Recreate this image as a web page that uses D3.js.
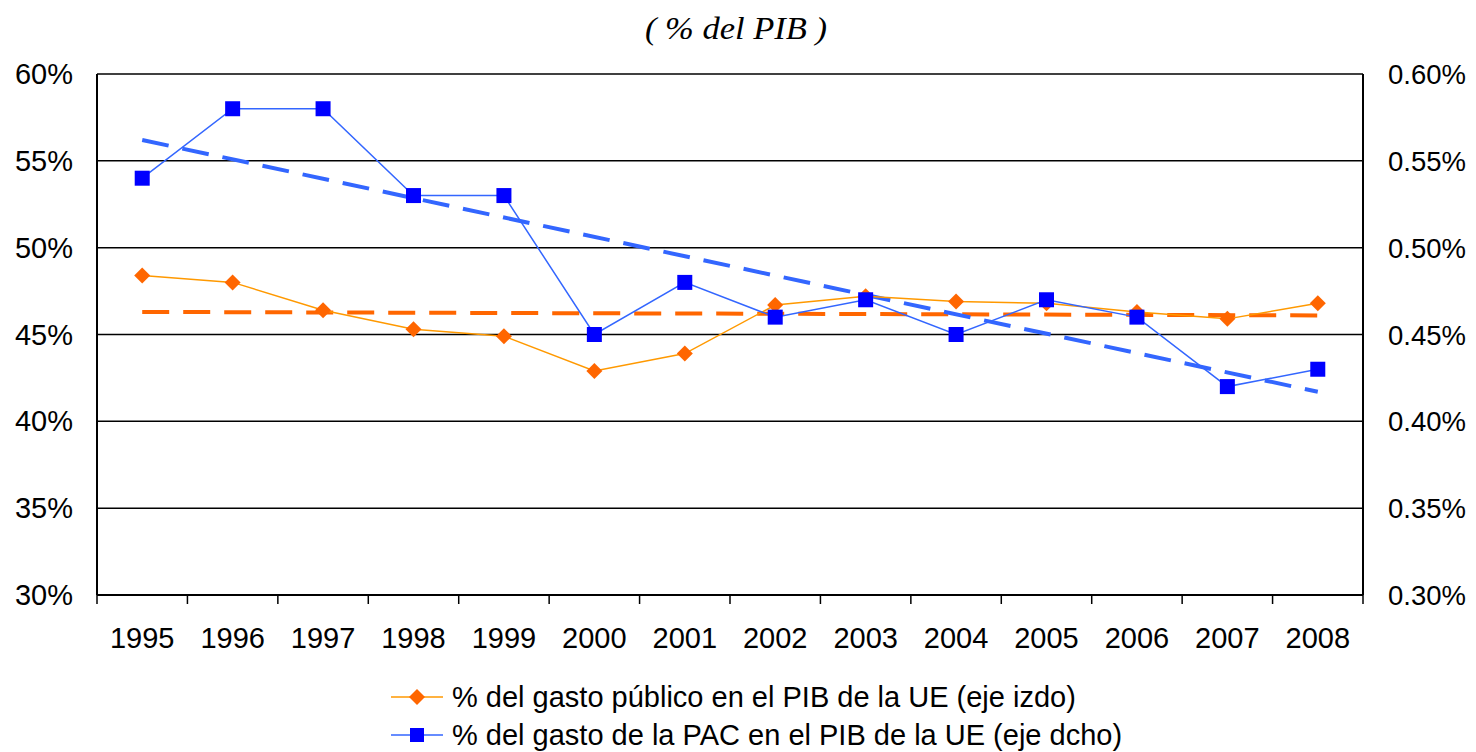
<!DOCTYPE html>
<html>
<head>
<meta charset="utf-8">
<script src="https://cdn.jsdelivr.net/npm/d3@7"></script>
<style>
  html, body { margin: 0; padding: 0; background: #fff; }
  svg { display: block; }
</style>
</head>
<body>
<svg id="chart" width="1476" height="752"></svg>
<script>
// años y series
const years = ['1995','1996','1997','1998','1999','2000','2001','2002','2003','2004','2005','2006','2007','2008'];
const gastoPublico = [48.4, 48.0, 46.4, 45.3, 44.9, 42.9, 43.9, 46.7, 47.2, 46.9, 46.8, 46.3, 45.9, 46.8]; // eje izdo, %
const gastoPAC = [0.54, 0.58, 0.58, 0.53, 0.53, 0.45, 0.48, 0.46, 0.47, 0.45, 0.47, 0.46, 0.42, 0.43];   // eje dcho, %
// tendencias lineales: extremos leídos (1995, 2008)
const tendPublico = [46.3, 46.1];
const tendPAC = [0.562, 0.417];
const ticksIzdo = [30, 35, 40, 45, 50, 55, 60];
const ticksDcho = [0.30, 0.35, 0.40, 0.45, 0.50, 0.55, 0.60];

const svg = d3.select('#chart');
const m = { l: 97, r: 1363, t: 74, b: 595 };

const x = d3.scaleBand().domain(years).range([m.l, m.r]);
const cxp = d => x(d) + x.bandwidth() / 2;
const yL = d3.scaleLinear().domain([30, 60]).range([m.b, m.t]);
const yR = d3.scaleLinear().domain([0.30, 0.60]).range([m.b, m.t]);

const FONT = '"Liberation Sans", Arial, sans-serif';
const FS = '29px';

// título
svg.append('text')
  .attr('x', 645).attr('y', 39)
  .attr('textLength', 182).attr('lengthAdjust', 'spacingAndGlyphs')
  .attr('font-family', '"Liberation Serif", "Times New Roman", serif')
  .attr('font-style', 'italic').style('font-size', '31px').attr('fill', '#000')
  .text('( % del PIB )');

// rejilla
svg.append('g').selectAll('line').data(ticksIzdo).join('line')
  .attr('x1', m.l).attr('x2', m.r)
  .attr('y1', d => yL(d)).attr('y2', d => yL(d))
  .attr('stroke', '#000').attr('stroke-width', 1.5);

// bordes
svg.append('line').attr('x1', m.l).attr('x2', m.l).attr('y1', m.t).attr('y2', m.b)
  .attr('stroke', '#000').attr('stroke-width', 2);
svg.append('line').attr('x1', m.r).attr('x2', m.r).attr('y1', m.t).attr('y2', m.b)
  .attr('stroke', '#000').attr('stroke-width', 2);
svg.append('line').attr('x1', m.l).attr('x2', m.r).attr('y1', m.b).attr('y2', m.b)
  .attr('stroke', '#000').attr('stroke-width', 2);

// marcas del eje x en los límites de categoría
const bounds = years.map(d => x(d)).concat([m.r]);
svg.append('g').selectAll('line').data(bounds).join('line')
  .attr('x1', d => d).attr('x2', d => d).attr('y1', m.b).attr('y2', m.b + 9)
  .attr('stroke', '#000').attr('stroke-width', 1.5);

svg.append('g').selectAll('text').data(years).join('text')
  .attr('x', d => cxp(d)).attr('y', 648).attr('text-anchor', 'middle')
  .attr('font-family', FONT).style('font-size', FS).text(d => d);

svg.append('g').selectAll('text').data(ticksIzdo).join('text')
  .attr('x', 73).attr('y', d => yL(d) + 10).attr('text-anchor', 'end')
  .attr('font-family', FONT).style('font-size', FS).text(d => d + '%');

svg.append('g').selectAll('text').data(ticksDcho).join('text')
  .attr('x', 1388).attr('y', d => yR(d) + 10).attr('text-anchor', 'start')
  .attr('font-family', FONT).style('font-size', '27.5px').text(d => d.toFixed(2) + '%');

// tendencias
const first = years[0], last = years[years.length - 1];
svg.append('line')
  .attr('x1', cxp(first)).attr('x2', cxp(last))
  .attr('y1', yL(tendPublico[0])).attr('y2', yL(tendPublico[1]))
  .attr('stroke', '#FF6600').attr('stroke-width', 4).attr('stroke-dasharray', '27,14');
svg.append('line')
  .attr('x1', cxp(first)).attr('x2', cxp(last))
  .attr('y1', yR(tendPAC[0])).attr('y2', yR(tendPAC[1]))
  .attr('stroke', '#3366FF').attr('stroke-width', 4).attr('stroke-dasharray', '27,14');

// series
const linePub = d3.line().x((d, i) => cxp(years[i])).y(d => yL(d));
const linePAC = d3.line().x((d, i) => cxp(years[i])).y(d => yR(d));

svg.append('path').datum(gastoPublico).attr('d', linePub)
  .attr('fill', 'none').attr('stroke', '#FF9900').attr('stroke-width', 1.5);
svg.append('path').datum(gastoPAC).attr('d', linePAC)
  .attr('fill', 'none').attr('stroke', '#3366FF').attr('stroke-width', 1.5);

const diamond = d3.symbol().type(d3.symbolSquare).size(128);
svg.append('g').selectAll('path').data(gastoPublico).join('path')
  .attr('transform', (d, i) => `translate(${cxp(years[i])},${yL(d)}) rotate(45)`)
  .attr('d', diamond)
  .attr('fill', '#FF6600');

svg.append('g').selectAll('rect').data(gastoPAC).join('rect')
  .attr('x', (d, i) => cxp(years[i]) - 7.5).attr('y', d => yR(d) - 7.5)
  .attr('width', 15).attr('height', 15).attr('fill', '#0000FF');

// leyenda
const leg = [
  { txt: '% del gasto público en el PIB de la UE (eje izdo)', line: '#FF9900', mk: '#FF6600', shape: 'diamond', y: 697 },
  { txt: '% del gasto de la PAC en el PIB de la UE (eje dcho)', line: '#3366FF', mk: '#0000FF', shape: 'square', y: 735 },
];
const lg = svg.append('g').selectAll('g').data(leg).join('g');
lg.append('line').attr('x1', 391).attr('x2', 443).attr('y1', d => d.y).attr('y2', d => d.y)
  .attr('stroke', d => d.line).attr('stroke-width', 1.5);
lg.append('path')
  .attr('transform', d => `translate(417,${d.y})` + (d.shape === 'diamond' ? ' rotate(45)' : ''))
  .attr('d', d => d3.symbol().type(d3.symbolSquare).size(d.shape === 'diamond' ? 128 : 196)())
  .attr('fill', d => d.mk);
lg.append('text').attr('x', 452).attr('y', d => d.y + 10)
  .attr('font-family', FONT).style('font-size', FS).text(d => d.txt);
</script>
</body>
</html>
